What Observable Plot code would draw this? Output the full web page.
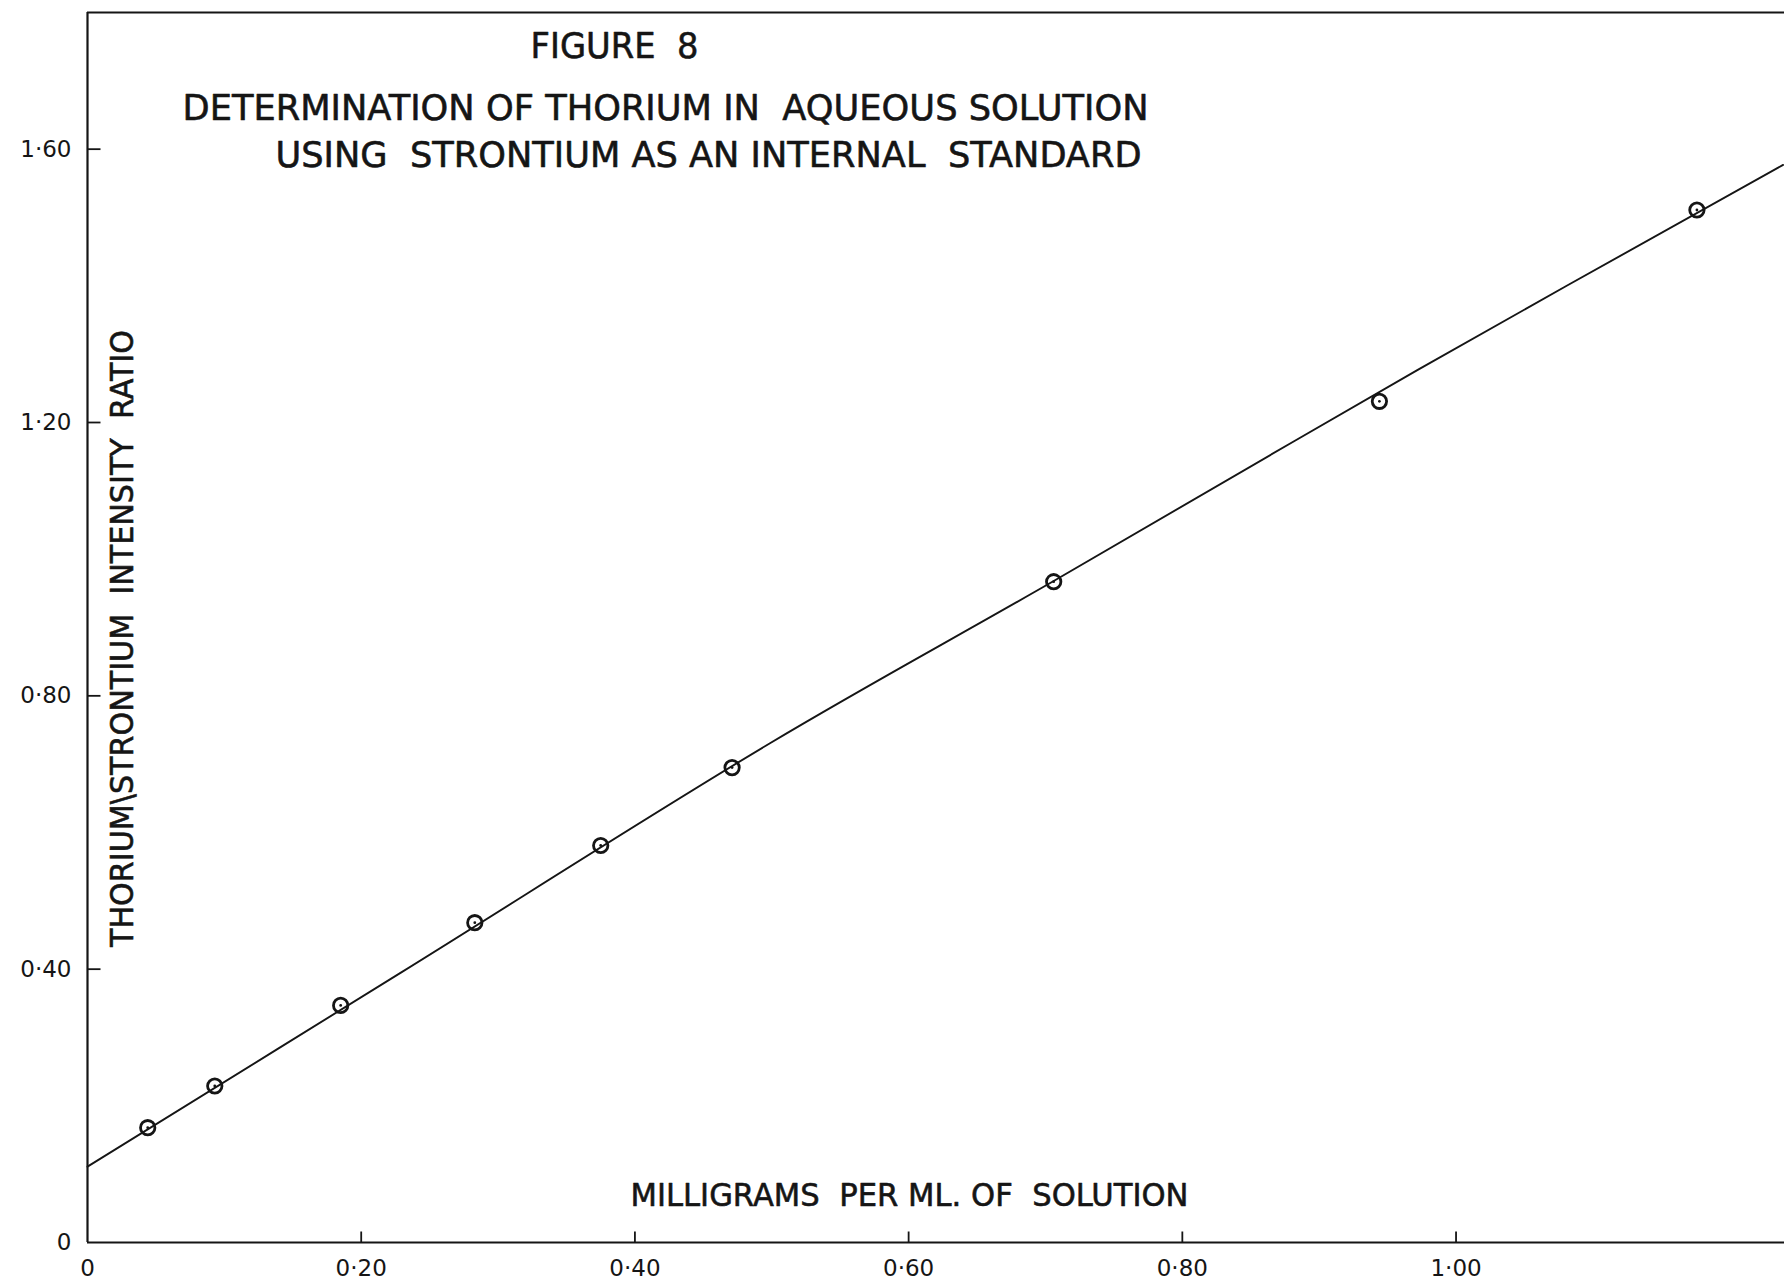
<!DOCTYPE html>
<html>
<head>
<meta charset="utf-8">
<script src="https://cdn.jsdelivr.net/npm/d3@7"></script>
<script src="https://cdn.jsdelivr.net/npm/@observablehq/plot@0.6"></script>
<style>
  html, body { margin: 0; padding: 0; background: #fff; }
  #chart { width: 1784px; height: 1281px; }
</style>
</head>
<body>
<div id="chart"></div>
<script>
// ---- data ----
const concentration = [0.044, 0.093, 0.185, 0.283, 0.375, 0.471, 0.706, 0.944, 1.176]; // mg per ml
const intensityRatio = [0.168, 0.229, 0.347, 0.468, 0.581, 0.695, 0.967, 1.231, 1.511];

// hand-drawn calibration line (vertices)
const fitX = [0, 0.229, 0.499, 0.706, 0.972, 1.239];
const fitY = [0.111, 0.395, 0.731, 0.968, 1.277, 1.577];

const xTickValues = [0, 0.2, 0.4, 0.6, 0.8, 1.0];
const yTickValues = [0, 0.4, 0.8, 1.2, 1.6];
const xDomain = [0, 1.24];
const yDomain = [0, 1.8];

const figureLabel = "FIGURE\u00a0\u00a08";
const titleLine1 = "DETERMINATION OF THORIUM IN\u00a0\u00a0AQUEOUS SOLUTION";
const titleLine2 = "USING\u00a0\u00a0STRONTIUM AS AN INTERNAL\u00a0\u00a0STANDARD";
const xLabel = "MILLIGRAMS\u00a0\u00a0PER ML. OF\u00a0\u00a0SOLUTION";
const yLabel = "THORIUM\\STRONTIUM\u00a0\u00a0INTENSITY\u00a0\u00a0RATIO";

// ---- build ----
const points = concentration.map((c, i) => ({c, r: intensityRatio[i]}));
const fit = fitX.map((x, i) => ({x, y: fitY[i]}));
const fmt = d => d === 0 ? "0" : d.toFixed(2).replace(".", "\u00b7");
const ink = "#151515";
const font = "'DejaVu Sans', 'Liberation Sans', sans-serif";

// inward tick shapes (drawn as dot symbols at the tick positions)
const tickUp = {draw(ctx) { ctx.moveTo(0, 0); ctx.lineTo(0, -11); }};
const tickRight = {draw(ctx) { ctx.moveTo(0, 0); ctx.lineTo(13, 0); }};

const textStyle = {fill: ink, stroke: ink, strokeWidth: 0.6, textAnchor: "middle", lineAnchor: "middle"};

const plot = Plot.plot({
  width: 1784,
  height: 1281,
  marginLeft: 87,
  marginRight: 0,
  marginTop: 12,
  marginBottom: 39,
  style: {fontFamily: font, fontSize: "23px", color: ink, background: "#fff"},
  x: {domain: xDomain, ticks: xTickValues, tickFormat: fmt, tickSize: 0, tickPadding: 17, label: null},
  y: {domain: yDomain, ticks: yTickValues, tickFormat: fmt, tickSize: 0, tickPadding: 16, label: null},
  marks: [
    // frame: left axis, bottom axis, top border
    Plot.ruleX([0], {stroke: ink, strokeWidth: 2.2}),
    Plot.ruleY([0], {stroke: ink, strokeWidth: 2.2}),
    Plot.ruleY([yDomain[1]], {stroke: ink, strokeWidth: 2.2}),
    // inward tick marks
    Plot.dot(xTickValues.filter(d => d > 0), {x: d => d, y: 0, symbol: tickUp, stroke: ink, strokeWidth: 1.8, fill: "none"}),
    Plot.dot(yTickValues.filter(d => d > 0), {x: 0, y: d => d, symbol: tickRight, stroke: ink, strokeWidth: 1.8, fill: "none"}),
    // calibration line
    Plot.line(fit, {x: "x", y: "y", curve: "catmull-rom", stroke: ink, strokeWidth: 1.9}),
    // observations
    Plot.dot(points, {x: "c", y: "r", r: 7.2, stroke: ink, strokeWidth: 2.8, fill: "none"}),
    Plot.dot(points, {x: "c", y: "r", r: 1.4, fill: ink, stroke: "none"}),
    // titles and axis labels
    Plot.text([figureLabel], {text: d => d, frameAnchor: "top-left", dx: 527, dy: 34, fontSize: 36, ...textStyle}),
    Plot.text([titleLine1], {text: d => d, frameAnchor: "top-left", dx: 578, dy: 96, fontSize: 36, ...textStyle}),
    Plot.text([titleLine2], {text: d => d, frameAnchor: "top-left", dx: 621, dy: 143, fontSize: 36, ...textStyle}),
    Plot.text([xLabel], {text: d => d, frameAnchor: "bottom-left", dx: 822, dy: -47, fontSize: 32, ...textStyle}),
    Plot.text([yLabel], {text: d => d, frameAnchor: "left", dx: 35, dy: 11, rotate: -90, fontSize: 32, ...textStyle})
  ]
});

// fit the hand-lettered texts to the widths they take in the reference
const textWidths = new Map([
  [figureLabel, 168],
  [titleLine1, 966],
  [titleLine2, 866],
  [xLabel, 558],
  [yLabel, 617]
]);
d3.select(plot).selectAll("text").each(function () {
  const w = textWidths.get(this.textContent);
  if (w) d3.select(this).attr("textLength", w).attr("lengthAdjust", "spacingAndGlyphs");
});

document.getElementById("chart").appendChild(plot);
</script>
</body>
</html>
